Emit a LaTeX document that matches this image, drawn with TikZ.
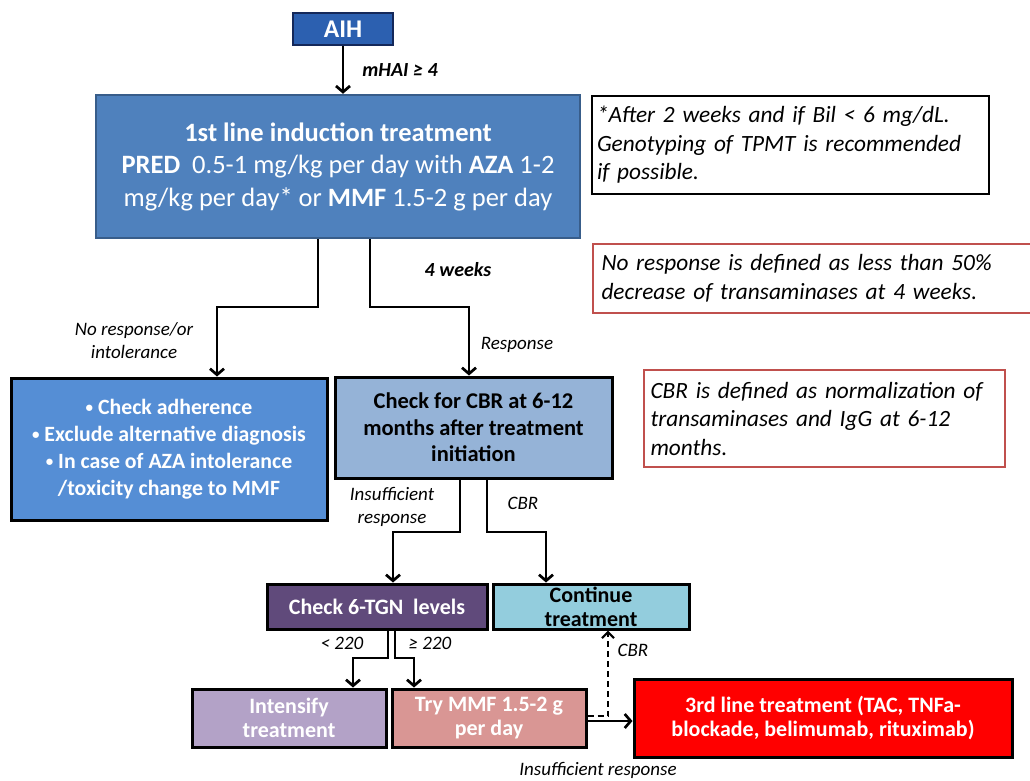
\documentclass[tikz,border=0pt]{standalone}
\usepackage{fontspec}
\setmainfont{Carlito}
\usetikzlibrary{arrows.meta}
\definecolor{aihblue}{RGB}{44,96,176}
\definecolor{aihborder}{RGB}{20,40,90}
\definecolor{firstblue}{RGB}{79,129,189}
\definecolor{firstborder}{RGB}{56,93,138}
\definecolor{leftblue}{RGB}{85,142,213}
\definecolor{cbrblue}{RGB}{149,179,215}
\definecolor{tgnpurple}{RGB}{96,74,123}
\definecolor{contcyan}{RGB}{147,205,221}
\definecolor{intlilac}{RGB}{179,162,199}
\definecolor{mmfpink}{RGB}{217,150,148}
\definecolor{notered}{RGB}{192,80,77}
\newcommand{\smbul}{{\fontsize{15}{15}\selectfont\raisebox{1.5pt}{•}}\ }
\begin{document}
\begin{tikzpicture}[x=1pt,y=-1pt,
  box/.style={draw=black, line width=3pt, inner sep=0pt, align=center,
    font=\bfseries\fontsize{22}{24.5}\selectfont},
  note/.style={draw=black, line width=1.2pt, fill=white, inner ysep=0pt, align=left,
    font=\itshape\fontsize{23.3}{28.5}\selectfont},
  lab/.style={font=\itshape\fontsize{19}{23}\selectfont, align=center, inner sep=0pt},
  arr/.style={line width=2.7pt, -{Straight Barb[length=6pt,width=14pt]}},
  dasharr/.style={line width=2.2pt, dash pattern=on 6pt off 4pt, -{Straight Barb[length=6pt,width=12pt]}}
]
\useasboundingbox (0,0) rectangle (1030,780);
\fill[white] (0,0) rectangle (1030,780);

% nodes
\node[box, draw=aihborder, line width=1.5pt, fill=aihblue, text=white, minimum width=100pt, minimum height=32pt,
  font=\bfseries\fontsize{25.5}{28}\selectfont] (aih) at (343,29) {AIH};
\node[box, draw=firstborder, line width=2.5pt, fill=firstblue, text=white, minimum width=484pt, minimum height=143pt,
  font=\fontsize{26.5}{32.5}\selectfont] (box1) at (338,166.5)
  {\textbf{1st line induction treatment}\\\textbf{PRED}\ \ 0.5-1 mg/kg per day with \textbf{AZA} 1-2\\mg/kg per day* or \textbf{MMF} 1.5-2 g per day};
\node[note, minimum width=397pt, minimum height=98pt, text width=387pt, inner xsep=5pt] (note1) at (790.5,145)
  {*After 2 weeks and if Bil < 6 mg/dL.\\Genotyping of TPMT is recommended\\if possible.};
\node[note, draw=notered, line width=2pt, minimum width=439pt, minimum height=69pt, text width=422pt, inner xsep=7pt] (note2) at (812.5,278.5)
  {\makebox[422pt][s]{No response is defined as less than 50\%}\\decrease of transaminases at 4 weeks.};
\node[box, fill=leftblue, text=white, minimum width=316pt, minimum height=142pt,
  font=\bfseries\fontsize{21.8}{27}\selectfont] (leftbox) at (169,449)
  {\smbul Check adherence\\\smbul Exclude alternative diagnosis\\\smbul In case of AZA intolerance\\/toxicity change to MMF};
\node[box, fill=cbrblue, text=black, minimum width=277pt, minimum height=101pt,
  font=\bfseries\fontsize{22.5}{26.5}\selectfont] (cbr) at (473.5,427.5)
  {Check for CBR at 6-12\\months after treatment\\initiation};
\node[note, draw=notered, line width=2pt, minimum width=361pt, minimum height=97pt, text width=348pt, inner xsep=6pt] (note3) at (824.5,418.5)
  {\makebox[348pt][s]{CBR is defined as normalization of}\\\makebox[348pt][s]{transaminases and IgG at 6-12}\\months.};
\node[box, fill=tgnpurple, text=white, minimum width=220pt, minimum height=45pt] (tgn) at (377,606.5) {Check 6-TGN\ \ levels};
\node[box, fill=contcyan, text=black, minimum width=196pt, minimum height=45pt,
  font=\bfseries\fontsize{22}{24}\selectfont] (cont) at (591,606.5) {Continue\\treatment};
\node[box, fill=intlilac, text=white, minimum width=194pt, minimum height=58pt] (intens) at (289,718) {Intensify\\treatment};
\node[box, fill=mmfpink, text=white, minimum width=194pt, minimum height=58pt] (trymmf) at (489,718) {Try MMF 1.5-2 g\\per day};
\node[box, fill=red, text=white, minimum width=378pt, minimum height=78pt] (third) at (823,718)
  {3rd line treatment (TAC, TNFa-\\blockade, belimumab, rituximab)};

% helper coordinates
\coordinate (b1L) at (318,307);
\coordinate (b1R) at (370,307);
\coordinate (lbT) at (217,0);
\coordinate (cbT) at (469,0);
\coordinate (cL) at (460,532);
\coordinate (cR) at (487,532);
\coordinate (tgT) at (393,0);
\coordinate (coT) at (546,0);
\coordinate (tL) at (388,658);
\coordinate (tR) at (395,658);
\coordinate (inT) at (353,0);
\coordinate (trT) at (414,0);
\coordinate (dsh) at (608,716);
\coordinate (sol) at (0,721);

% connectors
\draw[arr] (aih.south) -- (aih.south |- box1.north);
\draw[arr] (box1.south -| b1L) -- (b1L) -| (leftbox.north -| lbT);
\draw[arr] (box1.south -| b1R) -- (b1R) -| (cbr.north -| cbT);
\draw[arr] (cbr.south -| cL) -- (cL) -| (tgn.north -| tgT);
\draw[arr] (cbr.south -| cR) -- (cR) -| (cont.north -| coT);
\draw[arr] (tgn.south -| tL) -- (tL) -| (intens.north -| inT);
\draw[arr] (tgn.south -| tR) -- (tR) -| (trymmf.north -| trT);
\draw[dasharr] (trymmf.east |- dsh) -- (dsh) -- (cont.south -| dsh);
\draw[arr] (trymmf.east |- sol) -- (third.west |- sol);

% labels
\node[lab, font=\bfseries\itshape\fontsize{20}{22}\selectfont] (l1) at (400,70) {mHAI ≥ 4};
\node[lab, font=\bfseries\itshape\fontsize{20}{22}\selectfont] (l2) at (458,270) {4 weeks};
\node[lab] (l3) at (134,340.5) {No response/or\\intolerance};
\node[lab] (l4) at (517,345) {Response};
\node[lab] (l5) at (392,507) {Insufficient\\response};
\node[lab] (l6) at (523,503) {CBR};
\node[lab] (l7) at (342,643) {< 220};
\node[lab] (l8) at (430,643) {≥ 220};
\node[lab] (l9) at (633,650) {CBR};
\node[lab] (l10) at (598,770) {Insufficient response};
\end{tikzpicture}
\end{document}
